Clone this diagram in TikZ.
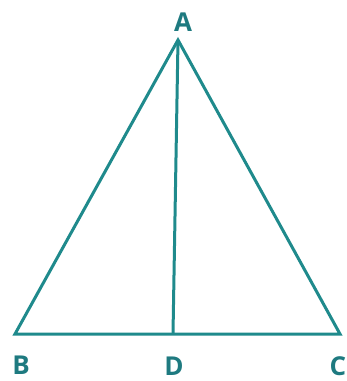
\documentclass[tikz,border=0pt]{standalone}
\usepackage{fontspec}
\setmainfont{Open Sans}
\definecolor{teal1}{HTML}{1F8A8C}
\definecolor{lab}{HTML}{1E7A80}
\begin{document}
\begin{tikzpicture}[x=1pt,y=-1pt,
  edge/.style={draw=teal1,line width=3pt,line join=miter},
  lbl/.style={text=lab,font=\bfseries\fontsize{26}{26}\selectfont,inner sep=0pt}]
\useasboundingbox (0,0) rectangle (347,381);
\coordinate (A) at (178,40);
\coordinate (B) at (15,334);
\coordinate (C) at (340,334);
\coordinate (D) at (173,334);
\draw[edge] (A) -- (B) -- (C) -- cycle;
\draw[edge] (A) -- (D);
\node[lbl] (lA) at (183,22) {A};
\node[lbl] (lB) at (21,365) {B};
\node[lbl] (lD) at (174,366) {D};
\node[lbl] (lC) at (338,366) {C};
\end{tikzpicture}
\end{document}
